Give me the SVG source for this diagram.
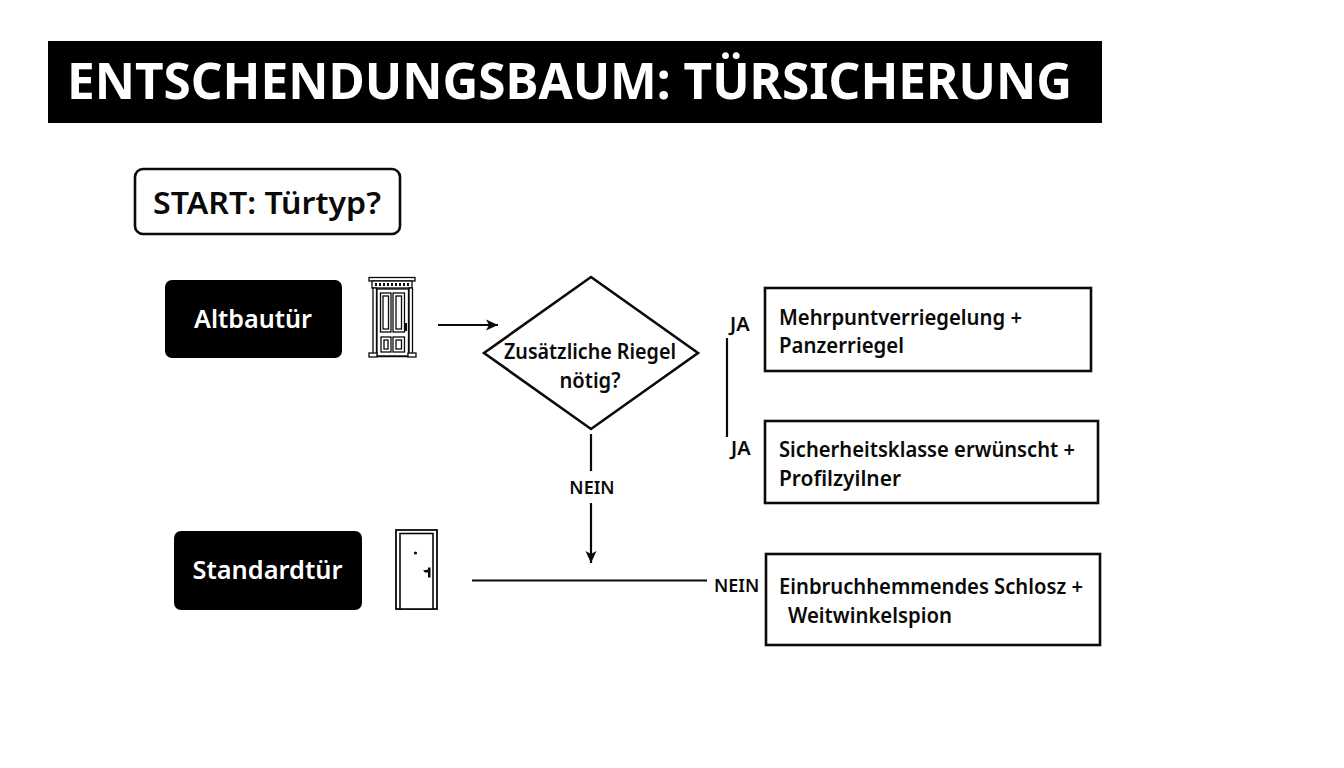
<svg xmlns="http://www.w3.org/2000/svg" width="1344" height="768" viewBox="0 0 1344 768">
<style>
text{font-family:"Noto Sans","Open Sans","Liberation Sans",sans-serif;fill:#0a0a0a;font-weight:600}
.w{fill:#fff}
.c{stroke:#0a0a0a;stroke-width:2.200;fill:none}
.box{stroke:#0a0a0a;stroke-width:2.600;fill:#fff}
.ic{stroke:#0a0a0a;stroke-width:1.300;fill:#fff}
.t{font-size:21.5px}
.l{font-size:18px}
.j{font-size:20px}
.m{text-anchor:middle}
</style>
<defs>
<marker id="a" markerUnits="userSpaceOnUse" markerWidth="14" markerHeight="14" refX="12" refY="7" orient="auto"><path d="M0 1.500L12 7L0 12.500L3 7Z" fill="#0a0a0a"/></marker>
</defs>
<rect width="1344" height="768" fill="#fff"/>
<g id="title"><rect x="48" y="41" width="1054" height="82" fill="#000"/>
<text class="w" x="67" y="99" font-size="50" style="font-weight:700" textLength="1005" lengthAdjust="spacingAndGlyphs">ENTSCHENDUNGSBAUM: TÜRSICHERUNG</text></g>
<g id="connectors">
<path class="c" d="M438 325H498" marker-end="url(#a)"/>
<path class="c" d="M591 434V471"/>
<path class="c" d="M591 503V563" marker-end="url(#a)"/>
<path class="c" d="M727 338V437"/>
<path class="c" d="M472 580.500H707"/>
</g>
<g id="start"><rect x="135" y="169" width="265" height="65" rx="8" fill="#fff" stroke="#0a0a0a" stroke-width="2.600"/>
<text class="m" x="267" y="214" font-size="30" textLength="228" lengthAdjust="spacingAndGlyphs">START: Türtyp?</text></g>
<g id="altbau"><rect x="165" y="280" width="177" height="78" rx="7" fill="#000"/>
<text class="w m" x="253" y="328" font-size="25" textLength="118" lengthAdjust="spacingAndGlyphs">Altbautür</text></g>
<g id="altbau-icon">
<rect class="ic" x="369" y="277.500" width="46" height="3.500"/>
<rect class="ic" x="372" y="281" width="40" height="7"/>
<path d="M375 284.500H409" stroke="#0a0a0a" stroke-width="3" stroke-dasharray="2 2"/>
<rect class="ic" x="373" y="288" width="3.500" height="66"/>
<rect class="ic" x="409" y="288" width="3.500" height="66"/>
<rect class="ic" x="377" y="289" width="31.500" height="67"/>
<rect class="ic" x="380.500" y="293" width="10.500" height="39"/><rect class="ic" x="393" y="293" width="11.500" height="39"/>
<rect class="ic" x="383" y="296" width="5.500" height="33"/><rect class="ic" x="396" y="296" width="5.500" height="33"/>
<rect class="ic" x="381" y="337" width="10" height="15"/><rect class="ic" x="393" y="337" width="11.500" height="15"/>
<rect class="ic" x="384" y="340" width="4" height="9"/><rect class="ic" x="396" y="340" width="5.500" height="9"/>
<rect class="ic" x="369" y="353" width="8" height="4"/><rect class="ic" x="408" y="353" width="8" height="4"/>
<path d="M377 356.500H408" stroke="#0a0a0a" stroke-width="1.500"/>
<path d="M404.500 323h2.500v8h-2.500z" fill="#0a0a0a"/>
</g>
<g id="entscheidung"><path d="M591 277L698 353L591 429L484 353Z" fill="#fff" stroke="#0a0a0a" stroke-width="2.600"/>
<text class="m" x="590" y="359" font-size="21" textLength="172" lengthAdjust="spacingAndGlyphs">Zusätzliche Riegel</text>
<text class="m" x="590" y="388" font-size="21" textLength="61" lengthAdjust="spacingAndGlyphs">nötig?</text></g>
<g id="labels">
<text class="j" x="730" y="331">JA</text>
<text class="j" x="731" y="455">JA</text>
<text class="l m" x="592" y="494">NEIN</text>
<text class="l" x="714" y="592">NEIN</text>
</g>
<g id="r1"><rect class="box" x="765" y="288" width="326" height="83"/>
<text class="t" x="779" y="325" textLength="243" lengthAdjust="spacingAndGlyphs">Mehrpuntverriegelung +</text>
<text class="t" x="779" y="353" textLength="125" lengthAdjust="spacingAndGlyphs">Panzerriegel</text></g>
<g id="r2"><rect class="box" x="765" y="421" width="333" height="82"/>
<text class="t" x="779" y="457" textLength="296" lengthAdjust="spacingAndGlyphs">Sicherheitsklasse erwünscht +</text>
<text class="t" x="779" y="486" textLength="122" lengthAdjust="spacingAndGlyphs">Profilzyilner</text></g>
<g id="r3"><rect class="box" x="766" y="554" width="334" height="91"/>
<text class="t" x="779" y="594" textLength="304" lengthAdjust="spacingAndGlyphs">Einbruchhemmendes Schlosz +</text>
<text class="t" x="788" y="623" textLength="164" lengthAdjust="spacingAndGlyphs">Weitwinkelspion</text></g>
<g id="standard"><rect x="174" y="531" width="188" height="79" rx="7" fill="#000"/>
<text class="w m" x="267.500" y="579" font-size="25" textLength="150" lengthAdjust="spacingAndGlyphs">Standardtür</text></g>
<g id="standard-icon">
<rect x="396" y="530" width="41" height="79" fill="#fff" stroke="#0a0a0a" stroke-width="1.800"/>
<rect x="400" y="533.500" width="33" height="75.500" fill="#fff" stroke="#0a0a0a" stroke-width="1.600"/>
<circle cx="415.500" cy="553" r="1.600" fill="#0a0a0a"/>
<path d="M423 570.500l5-1v-2h2.500v10h-2.500v-5h-3z" fill="#0a0a0a"/>
</g>
</svg>
